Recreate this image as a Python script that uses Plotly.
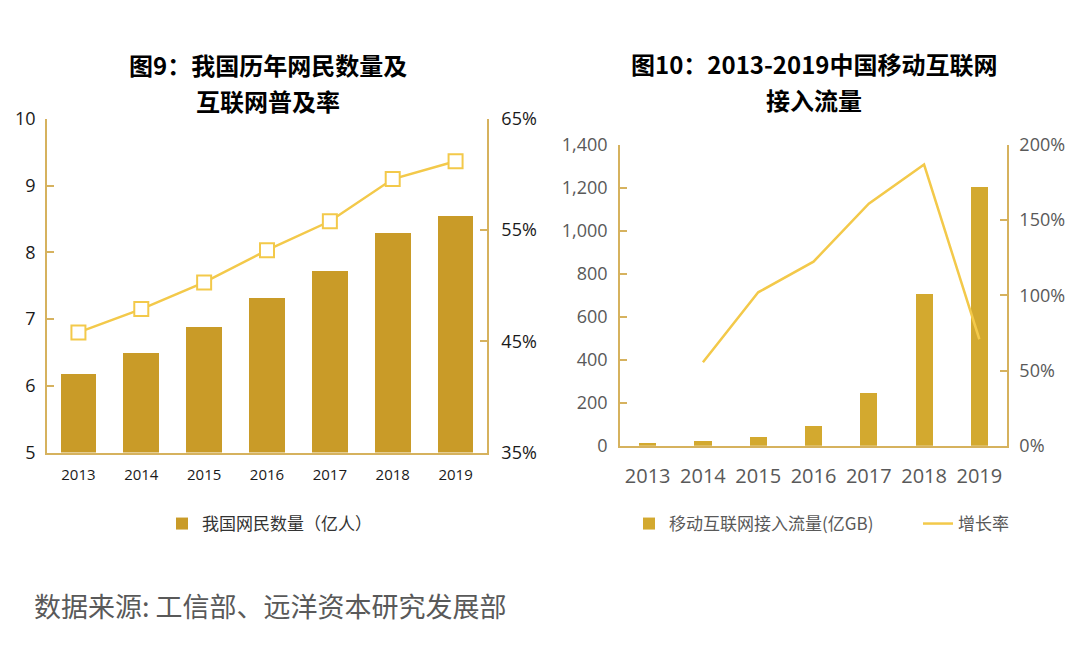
import plotly.graph_objects as go

# ---------------- data ----------------
years = ["2013", "2014", "2015", "2016", "2017", "2018", "2019"]
netizens = [6.18, 6.49, 6.88, 7.31, 7.72, 8.29, 8.54]          # 亿人
penetration = [45.8, 47.9, 50.3, 53.2, 55.8, 59.6, 61.2]        # %
mobile_traffic = [13, 21, 42, 94, 245, 705, 1205]               # 亿GB
traffic_growth = [None, 55.5, 102, 122.4, 161, 187, 70.8]       # %

left_y_ticks = [5, 6, 7, 8, 9, 10]
left_y2_ticks = [35, 45, 55, 65]
right_y_ticks = [0, 200, 400, 600, 800, 1000, 1200, 1400]
right_y2_ticks = [0, 50, 100, 150, 200]

# ---------------- styles ----------------
W, H = 1080, 652
BAR_L = "#C99B28"
BAR_R = "#D3A92F"
LINE = "#F3C94A"
AXIS = "#D6B25E"
CJK = "Noto Sans CJK SC"
NUM = "Open Sans, Noto Sans CJK SC"


def px_x(p):
    return p / W


def px_y(p):
    return 1 - p / H


fig = go.Figure()

fig.add_trace(go.Bar(
    x=years, y=netizens, name="我国网民数量（亿人）",
    marker=dict(color=BAR_L, line=dict(width=0)), width=0.57,
    xaxis="x", yaxis="y", legend="legend",
))
fig.add_trace(go.Scatter(
    x=years, y=penetration, name="互联网普及率", mode="lines+markers",
    line=dict(color=LINE, width=2.5),
    marker=dict(symbol="square", size=14, color="white",
                line=dict(color=LINE, width=2)),
    xaxis="x", yaxis="y2", showlegend=False,
))
fig.add_trace(go.Bar(
    x=years, y=mobile_traffic, name="移动互联网接入流量(亿GB)",
    marker=dict(color=BAR_R, line=dict(width=0)), width=0.31,
    xaxis="x2", yaxis="y3", legend="legend2",
))
fig.add_trace(go.Scatter(
    x=years, y=traffic_growth, name="增长率", mode="lines",
    line=dict(color=LINE, width=2.5),
    xaxis="x2", yaxis="y4", legend="legend3",
))

L_dom_x = [px_x(47), px_x(487)]
L_dom_y = [px_y(452.5), px_y(119)]
R_dom_x = [px_x(620), px_x(1007)]
R_dom_y = [px_y(445.7), px_y(145)]

dark = "#1a1a1a"
grey = "#595959"

common_axis = dict(showline=True, linecolor=AXIS, linewidth=1.5,
                   showgrid=False, zeroline=False, automargin=False)
y_ticks = dict(ticks="inside", ticklen=7, tickcolor=AXIS, tickwidth=1.5)

TITLE_SIZE = 24


def title_line(text, x, y):
    return dict(text=f"<b>{text}</b>", x=px_x(x), y=px_y(y),
                xref="paper", yref="paper", xanchor="center",
                yanchor="middle", showarrow=False,
                font=dict(family=CJK, size=TITLE_SIZE, color="#000000"))


fig.update_layout(
    template="none",
    width=W, height=H, autosize=False,
    margin=dict(l=0, r=0, t=0, b=0, pad=0, autoexpand=False),
    paper_bgcolor="white", plot_bgcolor="white",
    font=dict(family=CJK, color=dark),
    bargap=0,
    xaxis=dict(
        domain=L_dom_x, anchor="y", type="category", ticks="",
        tickfont=dict(family=NUM, size=15, color=dark),
        ticklabelstandoff=8, **common_axis,
    ),
    yaxis=dict(
        domain=L_dom_y, anchor="x", range=[5, 10],
        tickvals=left_y_ticks,
        tickfont=dict(family=NUM, size=18, color=dark),
        ticklabelstandoff=6, **y_ticks, **common_axis,
    ),
    yaxis2=dict(
        overlaying="y", anchor="x", side="right", range=[35, 65],
        tickvals=left_y2_ticks, ticktext=[f"{v}%" for v in left_y2_ticks],
        tickfont=dict(family=NUM, size=18, color=dark),
        ticklabelstandoff=9, **y_ticks, **common_axis,
    ),
    xaxis2=dict(
        domain=R_dom_x, anchor="y3", type="category", ticks="",
        tickfont=dict(family=NUM, size=20, color=grey),
        ticklabelstandoff=12, **common_axis,
    ),
    yaxis3=dict(
        domain=R_dom_y, anchor="x2", range=[0, 1400],
        tickvals=right_y_ticks, tickformat=",",
        tickfont=dict(family=NUM, size=18, color=grey),
        ticklabelstandoff=7, **y_ticks, **common_axis,
    ),
    yaxis4=dict(
        overlaying="y3", anchor="x2", side="right", range=[0, 200],
        tickvals=right_y2_ticks, ticktext=[f"{v}%" for v in right_y2_ticks],
        tickfont=dict(family=NUM, size=18, color=grey),
        ticklabelstandoff=7, **y_ticks, **common_axis,
    ),
    legend=dict(
        x=px_x(162), y=px_y(524), xanchor="left", yanchor="middle",
        orientation="h", bgcolor="rgba(0,0,0,0)",
        font=dict(family=CJK, size=17, color="#333333"),
        itemwidth=30,
    ),
    legend2=dict(
        x=px_x(629), y=px_y(524), xanchor="left", yanchor="middle",
        orientation="h", bgcolor="rgba(0,0,0,0)",
        font=dict(family=CJK, size=17, color=grey),
        itemwidth=30,
    ),
    legend3=dict(
        x=px_x(918), y=px_y(524), xanchor="left", yanchor="middle",
        orientation="h", bgcolor="rgba(0,0,0,0)",
        font=dict(family=CJK, size=17, color=grey),
        itemwidth=30,
    ),
    annotations=[
        title_line("图9：我国历年网民数量及", 268, 65),
        title_line("互联网普及率", 268, 100),
        title_line("图10：2013-2019中国移动互联网", 814, 64),
        title_line("接入流量", 814, 99),
        dict(text="数据来源: 工信部、远洋资本研究发展部",
             x=px_x(32), y=px_y(605), xref="paper", yref="paper",
             xanchor="left", yanchor="middle", showarrow=False,
             font=dict(family=CJK, size=27, color=grey)),
    ],
)

fig.write_html(
    "out.html",
    config={"displayModeBar": False},
    post_script="document.body.style.margin='0';document.body.style.overflow='hidden';",
)
